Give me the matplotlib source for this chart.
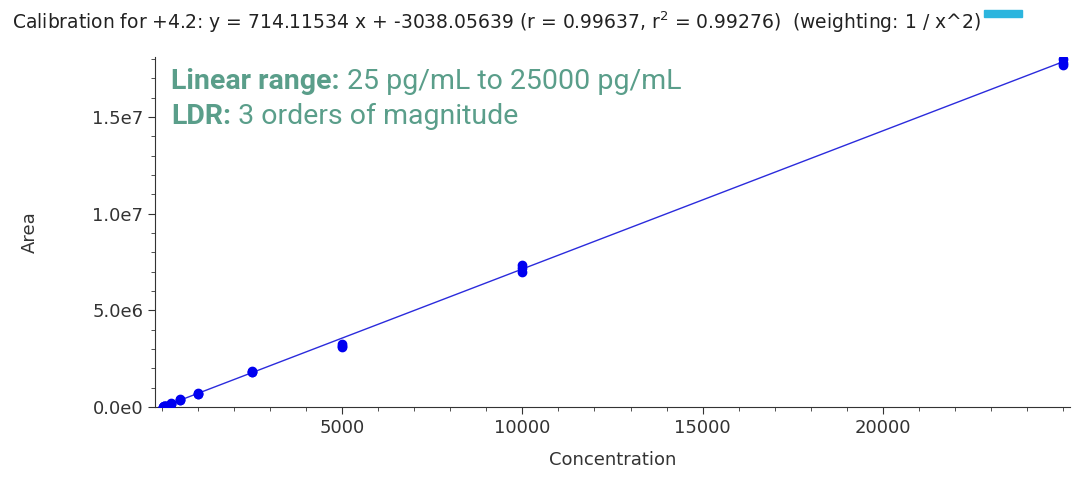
import numpy as np
import matplotlib
matplotlib.use("Agg")
import matplotlib.pyplot as plt
from matplotlib.ticker import FixedLocator, MultipleLocator, FuncFormatter
from matplotlib.patches import Rectangle

# calibration standards (pg/mL), triplicate areas
conc = [25, 25, 25, 50, 50, 50, 100, 100, 100, 250, 250, 250,
        500, 500, 500, 1000, 1000, 1000, 2500, 2500, 2500,
        5000, 5000, 5000, 10000, 10000, 10000, 25000, 25000, 25000]
area = [1.7e4, 1.8e4, 1.9e4, 3.4e4, 3.6e4, 3.5e4, 7.0e4, 7.2e4, 6.8e4,
        1.75e5, 1.8e5, 1.85e5, 3.7e5, 3.8e5, 3.9e5, 6.7e5, 6.9e5, 7.0e5,
        1.80e6, 1.82e6, 1.84e6, 3.10e6, 3.18e6, 3.25e6,
        7.0e6, 7.2e6, 7.35e6, 1.77e7, 1.78e7, 1.80e7]
slope = 714.11534
intercept = -3038.05639

title = ("Calibration for +4.2: y = 714.11534 x + -3038.05639 "
         "(r = 0.99637, r$^2$ = 0.99276)  (weighting: 1 / x^2)")

fig = plt.figure(figsize=(10.81, 4.82), dpi=100)
ax = fig.add_axes([155/1081, 75/482, (1070-155)/1081, (425-75)/482])

xfit = np.array([min(conc), max(conc)])
ax.plot(xfit, slope*xfit + intercept, color="#2b2bdc", lw=1.0, zorder=2)
ax.plot(conc, area, "o", color="#0000f0", ms=6, zorder=3)

ax.set_xlim(-200, 25200)
ax.set_ylim(0, 1.81e7)
ax.xaxis.set_major_locator(FixedLocator([5000, 10000, 15000, 20000]))
ax.xaxis.set_minor_locator(FixedLocator(np.arange(0, 25001, 1000)))
ax.yaxis.set_major_locator(MultipleLocator(5e6))
ax.yaxis.set_minor_locator(MultipleLocator(1e6))

def sci(v, pos):
    if v == 0:
        return "0.0e0"
    e = int(np.floor(np.log10(abs(v))))
    return "%.1fe%d" % (v/10**e, e)

ax.yaxis.set_major_formatter(FuncFormatter(sci))

for s in ["top", "right"]:
    ax.spines[s].set_visible(False)
for s in ["left", "bottom"]:
    ax.spines[s].set_color("#333333")
ax.tick_params(which="major", length=5, color="#333333", labelcolor="#333333",
               labelsize=13, direction="out")
ax.tick_params(which="minor", length=3, color="#333333", direction="out")

ax.set_xlabel("Concentration", fontsize=13, color="#333333", labelpad=10)
ax.set_ylabel("Area", fontsize=13, color="#333333", labelpad=38)

fig.text(12/1081, 1 - 22/482, title, fontsize=13.5, color="#222222",
         va="center", ha="left")
fig.add_artist(Rectangle((984/1081, 1 - 17/482), 38/1081, 7/482,
                         transform=fig.transFigure, color="#2cb5de"))

# annotation: bold lead-in followed by regular text
green = "#5a9e8a"
fnt = dict(fontsize=20.5, color=green, family="Roboto")
t1 = ax.text(0.018, 0.969, "Linear range:", transform=ax.transAxes,
             va="top", fontweight="bold", **fnt)
ax.annotate(" 25 pg/mL to 25000 pg/mL", xy=(1, 0), xycoords=t1,
            va="bottom", **fnt)
t2 = ax.text(0.018, 0.869, "LDR:", transform=ax.transAxes,
             va="top", fontweight="bold", **fnt)
ax.annotate(" 3 orders of magnitude", xy=(1, 0), xycoords=t2,
            va="bottom", **fnt)

fig.savefig("out.png", dpi=100)
